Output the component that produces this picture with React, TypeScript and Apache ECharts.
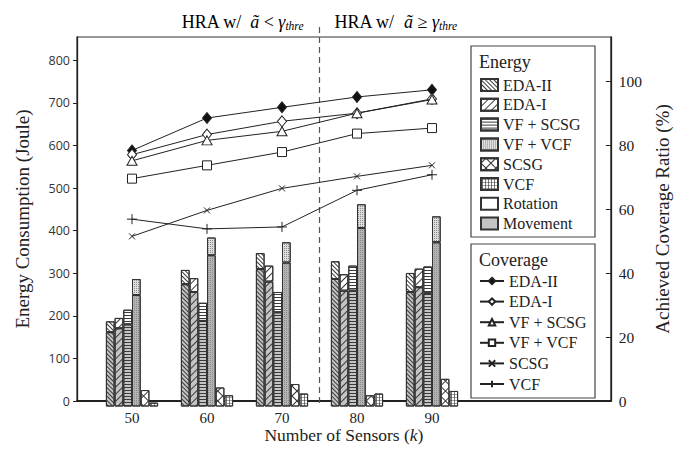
import React, { useEffect, useRef } from 'react';
import * as echarts from 'echarts';

// ---- data ----
const sensors = ['50', '60', '70', '80', '90'];
const algorithms = ['EDA-II', 'EDA-I', 'VF + SCSG', 'VF + VCF', 'SCSG', 'VCF'];

// energy (Joule): total height of each bar and its lower "movement" part
const totalEDA2 = [197, 316, 355, 336, 309];
const moveEDA2 = [172, 283, 318, 295, 265];
const totalEDA1 = [205, 297, 326, 306, 319];
const moveEDA1 = [181, 265, 289, 268, 276];
const totalVFSCSG = [224, 240, 265, 326, 324];
const moveVFSCSG = [190, 198, 218, 268, 262];
const totalVFVCF = [295, 391, 380, 468, 440];
const moveVFVCF = [258, 350, 333, 413, 380];
const totalSCSG = [38, 44, 52, 26, 64];
const totalVCF = [9, 26, 30, 30, 36];

// achieved coverage ratio (%)
const covEDA2 = [79.0, 89.0, 92.3, 95.5, 97.7];
const covEDA1 = [77.7, 83.9, 88.0, 90.5, 94.9];
const covVFSCSG = [75.8, 82.1, 84.9, 90.5, 94.7];
const covVFVCF = [70.3, 74.4, 78.5, 84.2, 85.9];
const covSCSG = [52.5, 60.5, 67.3, 71.0, 74.4];
const covVCF = [57.8, 54.8, 55.4, 66.7, 71.5];

const energyTicks = { min: 0, max: 855, interval: 100 };
const coverageTicks = { min: 0, max: 114, interval: 20 };

const serif = '"Liberation Serif", "Times New Roman", serif';
const sans = '"Open Sans", "Liberation Sans", sans-serif';
const ink = '#222';
const moveFill = '#c4c4c4';
const rotFill = '#ffffff';

const hatch = '#3a3a3a';
const plusThin = 'path://M4.3,0H5.7V4.3H10V5.7H5.7V10H4.3V5.7H0V4.3H4.3Z';
const plusGrid = 'path://M3.8,0H6.2V3.8H10V6.2H6.2V10H3.8V6.2H0V3.8H3.8Z';
const decals: Record<string, any> = {
  'EDA-II': { symbol: 'rect', symbolSize: 1, dashArrayX: [1, 0], dashArrayY: [1, 2], rotation: Math.PI / 4, color: hatch },
  'EDA-I': { symbol: 'rect', symbolSize: 1, dashArrayX: [1, 0], dashArrayY: [1, 4], rotation: -Math.PI / 4, color: hatch },
  'VF + SCSG': { symbol: 'rect', symbolSize: 1, dashArrayX: [1, 0], dashArrayY: [1, 2], rotation: 0, color: hatch },
  'VF + VCF': { symbol: 'rect', symbolSize: 1, dashArrayX: [1, 1], dashArrayY: [1, 1], rotation: 0, color: '#8a8a8a' },
  'SCSG': { symbol: plusThin, symbolSize: 1, dashArrayX: [7, 0], dashArrayY: [7, 0], rotation: Math.PI / 4, color: '#333' },
  'VCF': { symbol: plusGrid, symbolSize: 1, dashArrayX: [3, 0], dashArrayY: [3, 0], rotation: 0, color: '#444' },
};

function diff(a: number[], b: number[]) {
  return a.map((v, i) => +(v - b[i]).toFixed(1));
}

function bar(name: string, data: number[], stack: string, fill: string, decal: any) {
  return {
    type: 'bar',
    name,
    data,
    stack,
    xAxisIndex: 1,
    yAxisIndex: 2,
    barWidth: 8.7,
    barGap: '0%',
    itemStyle: { color: fill, borderColor: '#333', borderWidth: 1, decal },
    emphasis: { disabled: true },
    z: 2,
  };
}

function line(name: string, data: number[], symbol: string, symbolSize: any, fill: string) {
  return {
    type: 'line',
    name: 'cov:' + name,
    data,
    xAxisIndex: 1,
    yAxisIndex: 3,
    symbol,
    symbolSize,
    itemStyle: { color: fill, borderColor: ink, borderWidth: 1 },
    lineStyle: { color: ink, width: 1 },
    emphasis: { disabled: true },
    z: 5,
  };
}

export default function App() {
  const ref = useRef<HTMLDivElement>(null);

  useEffect(() => {
    document.body.style.margin = '0';
    const chart = echarts.init(ref.current!, null, { renderer: 'svg' });

    const series: any[] = [
      bar('EDA-II (movement)', moveEDA2, 'EDA-II', moveFill, decals['EDA-II']),
      bar('EDA-II', diff(totalEDA2, moveEDA2), 'EDA-II', rotFill, decals['EDA-II']),
      bar('EDA-I (movement)', moveEDA1, 'EDA-I', moveFill, decals['EDA-I']),
      bar('EDA-I', diff(totalEDA1, moveEDA1), 'EDA-I', rotFill, decals['EDA-I']),
      bar('VF + SCSG (movement)', moveVFSCSG, 'VF + SCSG', moveFill, decals['VF + SCSG']),
      bar('VF + SCSG', diff(totalVFSCSG, moveVFSCSG), 'VF + SCSG', rotFill, decals['VF + SCSG']),
      bar('VF + VCF (movement)', moveVFVCF, 'VF + VCF', '#b4b4b4', decals['VF + VCF']),
      bar('VF + VCF', diff(totalVFVCF, moveVFVCF), 'VF + VCF', '#dedede', decals['VF + VCF']),
      bar('SCSG', totalSCSG, 'SCSG', rotFill, decals['SCSG']),
      bar('VCF', totalVCF, 'VCF', rotFill, decals['VCF']),
      {
        type: 'bar', name: 'Rotation', data: [], xAxisIndex: 0, yAxisIndex: 0,
        itemStyle: { color: rotFill, borderColor: '#333', borderWidth: 1 },
      },
      {
        type: 'bar', name: 'Movement', data: [], xAxisIndex: 0, yAxisIndex: 0,
        itemStyle: { color: moveFill, borderColor: '#333', borderWidth: 1 },
      },
      line('EDA-II', covEDA2, 'diamond', [9, 11], '#111'),
      line('EDA-I', covEDA1, 'diamond', [9, 11], '#fff'),
      line('VF + SCSG', covVFSCSG, 'triangle', [10, 9], '#fff'),
      line('VF + VCF', covVFVCF, 'rect', 9, '#fff'),
      line('SCSG', covSCSG, 'path://M0,0L10,10M10,0L0,10', 6, 'none'),
      line('VCF', covVCF, 'path://M5,0L5,10M0,5L10,5', 10, 'none'),
    ];

    const option: any = {
      animation: false,
      backgroundColor: '#fff',
      grid: [
        { left: 77, right: 68, top: 37, bottom: 42.5, show: true, borderColor: '#333', borderWidth: 1.2 },
        { left: 94.5, width: 375, top: 37, bottom: 42.5 },
      ],
      xAxis: [
        {
          type: 'value', gridIndex: 0, min: 0, max: 1,
          axisLabel: { show: false }, axisTick: { show: false }, splitLine: { show: false },
          axisLine: { show: true, lineStyle: { color: ink, width: 2 } },
          name: '{n|Number of Sensors (}{i|k}{n|)}',
          nameLocation: 'middle', nameGap: 25,
          nameTextStyle: {
            rich: {
              n: { fontFamily: serif, fontSize: 17.5, color: ink },
              i: { fontFamily: serif, fontSize: 17.5, fontStyle: 'italic', color: ink },
            },
          },
        },
        {
          type: 'category', gridIndex: 1, data: sensors,
          axisLine: { show: false }, axisTick: { show: false },
          axisLabel: { fontFamily: serif, fontSize: 15, color: ink, margin: 4 },
        },
      ],
      yAxis: [
        {
          type: 'value', gridIndex: 0, position: 'left', ...energyTicks,
          axisLine: { show: true, lineStyle: { color: ink, width: 1.3 } },
          axisTick: { show: true, length: 4, lineStyle: { color: ink } },
          axisLabel: { fontFamily: sans, fontSize: 12.5, color: '#333', margin: 7, showMaxLabel: false },
          splitLine: { show: false },
          name: 'Energy Consumption (Joule)', nameLocation: 'middle', nameGap: 45,
          nameTextStyle: { fontFamily: serif, fontSize: 19, color: ink },
        },
        {
          type: 'value', gridIndex: 0, position: 'right', ...coverageTicks,
          axisLine: { show: true, lineStyle: { color: ink, width: 1.3 } },
          axisTick: { show: true, inside: true, length: 5, lineStyle: { color: ink } },
          axisLabel: { fontFamily: serif, fontSize: 15.5, color: ink, margin: 8, showMaxLabel: false },
          splitLine: { show: false },
          name: 'Achieved Coverage Ratio (%)', nameLocation: 'middle', nameGap: 42,
          nameTextStyle: { fontFamily: serif, fontSize: 19, color: ink },
        },
        { type: 'value', gridIndex: 1, ...energyTicks, show: false, splitLine: { show: false } },
        { type: 'value', gridIndex: 1, ...coverageTicks, show: false, splitLine: { show: false } },
      ],
      legend: [
        {
          orient: 'vertical', left: 480, top: 77, padding: 0, itemGap: 3.8,
          itemWidth: 17, itemHeight: 12, icon: 'rect', selectedMode: false,
          data: [...algorithms, 'Rotation', 'Movement'],
          textStyle: { fontFamily: serif, fontSize: 16, color: ink },
          z: 6,
        },
        {
          orient: 'vertical', left: 479, top: 273, padding: 0, itemGap: 4.6,
          itemWidth: 24, itemHeight: 8, selectedMode: false,
          data: algorithms.map((a) => 'cov:' + a),
          formatter: (n: string) => n.replace('cov:', ''),
          textStyle: { fontFamily: serif, fontSize: 16, color: ink },
          z: 6,
        },
      ],
      series,
    };

    chart.setOption(option);

    const x70 = chart.convertToPixel({ xAxisIndex: 1 }, '70') as number;
    const x80 = chart.convertToPixel({ xAxisIndex: 1 }, '80') as number;
    const divX = (x70 + x80) / 2;
    const titleRich = {
      n: { fontFamily: serif, fontSize: 18, color: ink, lineHeight: 20 },
      i: { fontFamily: serif, fontSize: 18, fontStyle: 'italic', color: ink, lineHeight: 20 },
      s: { fontFamily: serif, fontSize: 11.5, fontStyle: 'italic', color: ink, lineHeight: 11, verticalAlign: 'bottom' },
    };

    chart.setOption({
      graphic: [
        { type: 'rect', z: 1, shape: { x: 471, y: 46, width: 124, height: 191 }, style: { fill: '#fff', stroke: '#444', lineWidth: 1.2 } },
        { type: 'rect', z: 1, shape: { x: 471, y: 244, width: 124, height: 154 }, style: { fill: '#fff', stroke: '#444', lineWidth: 1.2 } },
        { type: 'text', z: 2, x: 479, y: 62, style: { text: 'Energy', fontFamily: serif, fontSize: 18, fill: ink, verticalAlign: 'middle' } },
        { type: 'text', z: 2, x: 479, y: 259.5, style: { text: 'Coverage', fontFamily: serif, fontSize: 18, fill: ink, verticalAlign: 'middle' } },
        {
          type: 'line', z: 1,
          shape: { x1: divX, y1: 27, x2: divX, y2: 405 },
          style: { stroke: '#555', lineWidth: 1.2, lineDash: [6, 4] },
        },
        {
          type: 'text', z: 2, x: divX - 16, y: 22,
          style: { text: '{n|HRA w/  }{i|ã}{n| < }{i|γ}{s|thre}', align: 'right', verticalAlign: 'middle', rich: titleRich },
        },
        {
          type: 'text', z: 2, x: divX + 15, y: 22,
          style: { text: '{n|HRA w/  }{i|ã}{n| ≥ }{i|γ}{s|thre}', align: 'left', verticalAlign: 'middle', rich: titleRich },
        },
      ],
    });

    return () => chart.dispose();
  }, []);

  return <div ref={ref} style={{ width: 680, height: 449 }} />;
}
